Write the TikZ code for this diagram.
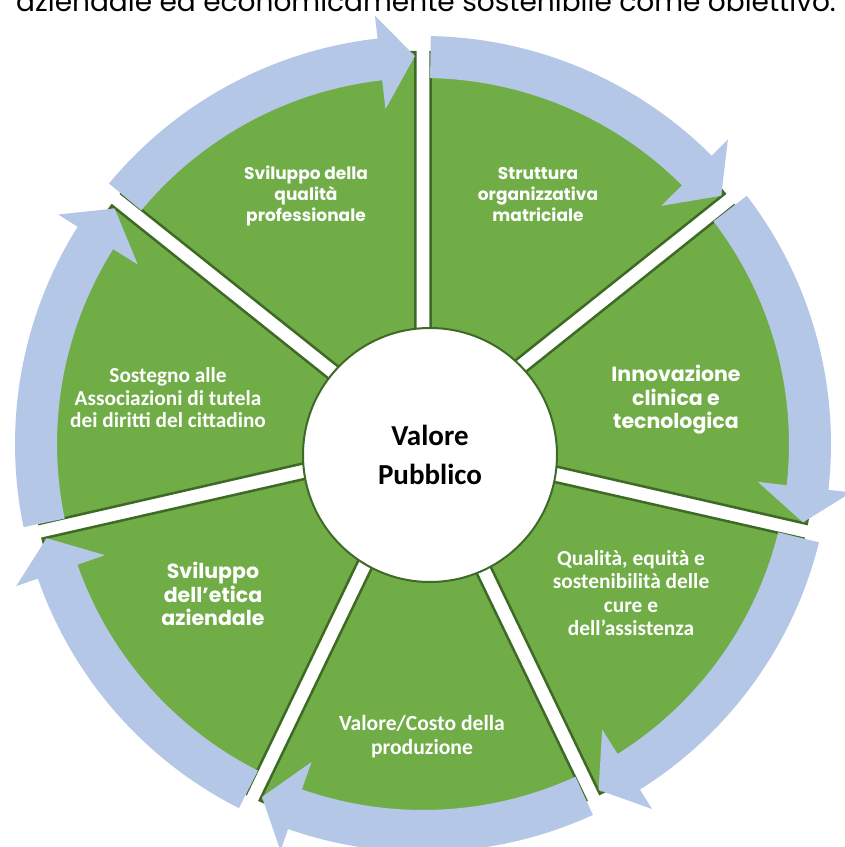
\documentclass[tikz,border=0pt]{standalone}
\usepackage{fontspec}
\setmainfont{Carlito}
\newfontfamily\gothic{Poppins}
\usetikzlibrary{calc}
\definecolor{pgreen}{HTML}{70AD47}
\definecolor{pdark}{HTML}{3E6A26}
\definecolor{pblue}{HTML}{B4C7E7}
\tikzset{
  sector/.style={fill=pgreen, draw=pdark, line width=2.5pt, line join=miter},
  arrowband/.style={fill=pblue},
  lblc/.style={text=white, align=center, inner sep=0pt, font=\bfseries\fontsize{21.4}{23.5}\selectfont},
  lblg/.style={text=white, align=center, inner sep=0pt, font=\gothic\bfseries\fontsize{17}{21}\selectfont},
  lblgb/.style={text=white, align=center, inner sep=0pt, font=\gothic\bfseries\fontsize{20.5}{23.5}\selectfont},
}
\begin{document}
\begin{tikzpicture}[x=1pt,y=1pt]
\clip (0,0) rectangle (845,847);
\fill[white] (0,0) rectangle (845,847);
\coordinate (C) at (423,403);
% green sectors
\foreach \k in {0,...,6}{
  \pgfmathsetmacro{\ga}{90-\k*360/7}
  \pgfmathsetmacro{\gb}{\ga-360/7}
  \pgfmathsetmacro{\gm}{\ga-180/7}
  \pgfmathsetmacro{\gc}{\ga-90}
  \pgfmathsetmacro{\sa}{\ga-1.1}
  \pgfmathsetmacro{\ea}{\gb+1.1}
  \path[sector] ($(C)+(\gm:18)$) -- ($(C)+(\gc:7.5)+(\ga:391.9)$)
     arc[start angle=\sa, end angle=\ea, radius=392] -- cycle;
}
% blue circular arrows
\foreach \k in {0,...,6}{
  \pgfmathsetmacro{\tip}{90-\k*360/7+1.2}
  \pgfmathsetmacro{\tail}{90-(\k-1)*360/7-1.1}
  \pgfmathsetmacro{\back}{\tip+5.2}
  \path[arrowband] ($(C)+(\tail:408)$) arc[start angle=\tail, end angle=\back, radius=408]
     -- ($(C)+(\back:431)$) -- ($(C)+(\tip:388)$) -- ($(C)+(\back:337)$)
     -- ($(C)+(\back:366)$) arc[start angle=\back, end angle=\tail, radius=366] -- cycle;
}
% centre
\node[circle, fill=white, draw=pdark, line width=2pt, minimum size=254pt, align=center,
      font=\bfseries\fontsize{29}{39}\selectfont] (centre) at (430,392) {Valore\\Pubblico};
% labels
\node[lblg]  (s1) at (306,651) {Sviluppo della\\qualità\\professionale};
\node[lblg]  (s2) at (538,652) {Struttura\\organizzativa\\matriciale};
\node[lblgb] (s3) at (676,447) {Innovazione\\clinica e\\tecnologica};
\node[lblc]  (s4) at (631,254) {Qualità, equità e\\sostenibilità delle\\cure e\\dell’assistenza};
\node[lblc, font=\bfseries\fontsize{21.6}{24}\selectfont] (s5) at (422,110) {Valore/Costo della\\produzione};
\node[lblgb] (s6) at (213,253) {Sviluppo\\dell’etica\\aziendale};
\node[lblc, font=\bfseries\fontsize{21.3}{22.5}\selectfont] (s7) at (168,449) {Sostegno alle\\Associazioni di tutela\\dei diritti del cittadino};
% cut-off heading line
\node[anchor=base west, inner sep=0pt, font=\gothic\fontsize{28}{32}\selectfont] (head) at (16,835) {aziendale ed economicamente sostenibile come obiettivo.};
\end{tikzpicture}
\end{document}
